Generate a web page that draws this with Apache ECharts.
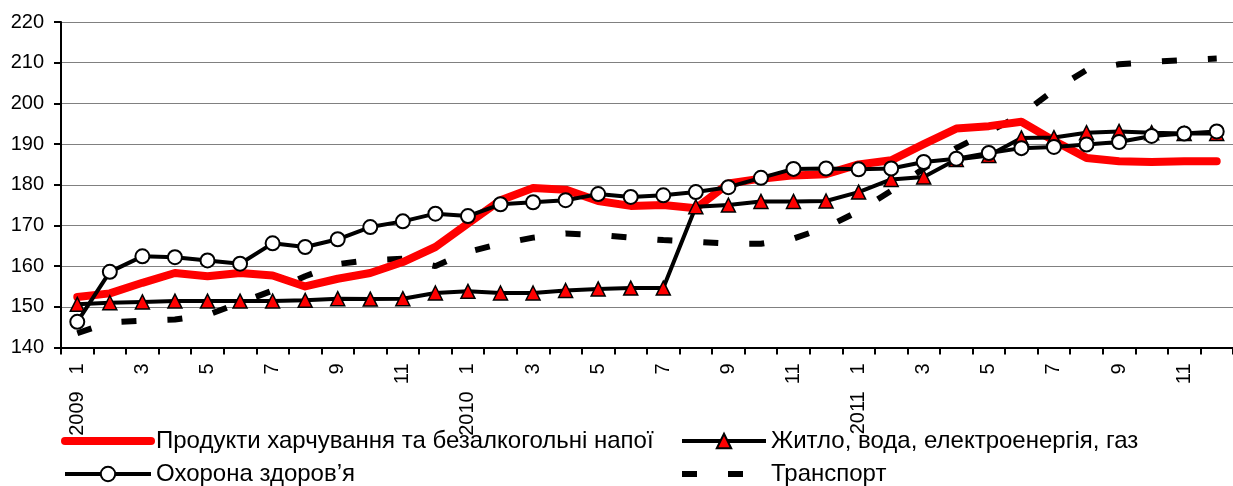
<!DOCTYPE html>
<html>
<head>
<meta charset="utf-8">
<script src="https://cdn.jsdelivr.net/npm/echarts@6/dist/echarts.min.js"></script>
<style>html,body{margin:0;padding:0;background:#fff}#c{width:1233px;height:486px}</style>
</head>
<body>
<div id="c"></div>
<script>
var years = ['2009', '2010', '2011'];
var months = [1,2,3,4,5,6,7,8,9,10,11,12];
var yTicks = {min: 140, max: 220, interval: 10};

var seriesNames = [
  'Продукти харчування та безалкогольні напої',
  'Житло, вода, електроенергія, газ',
  'Охорона здоров’я',
  'Транспорт'
];

var food = [152.4,153.3,155.9,158.3,157.5,158.3,157.7,155.0,156.9,158.3,161.0,164.7,
            170.5,176.2,179.2,178.8,176.0,174.8,175.0,174.2,180.3,181.5,182.3,182.6,
            185.0,186.0,190.0,193.8,194.4,195.5,190.8,186.6,185.8,185.6,185.8,185.8];
var housing = [150.6,151.0,151.2,151.4,151.4,151.4,151.4,151.6,152.0,151.9,152.0,153.4,
               153.8,153.4,153.4,154.0,154.4,154.6,154.6,174.6,175.0,175.9,175.9,176.0,
               178.2,181.3,181.9,186.2,187.2,191.5,191.6,192.8,193.1,192.8,192.6,192.6];
var health = [146.3,158.6,162.4,162.2,161.4,160.6,165.6,164.7,166.6,169.6,171.0,172.9,
              172.3,175.2,175.7,176.2,177.7,177.0,177.4,178.2,179.4,181.7,183.9,184.0,
              183.8,184.0,185.6,186.4,187.8,189.0,189.3,189.9,190.5,192.0,192.6,193.1];
var transport = [143.5,146.2,146.6,146.9,148.0,151.0,154.0,157.5,160.5,161.5,161.8,160.0,
                 163.5,165.5,167.0,168.0,167.7,167.0,166.4,166.0,165.5,165.5,166.8,169.5,
                 173.5,178.5,184.0,189.0,193.0,197.2,203.3,208.2,209.6,210.2,210.6,211.0];

var categories = [];
years.forEach(function (y) {
  months.forEach(function (m) { categories.push(y + '-' + m); });
});

var FONT = 'Liberation Sans, Arial, sans-serif';
var legendText = {color: '#000', fontFamily: FONT, fontSize: 24};
var chart = echarts.init(document.getElementById('c'), null, {renderer: 'canvas'});
chart.setOption({
  animation: false,
  backgroundColor: '#fff',
  grid: {left: 61, right: 0, top: 22, bottom: 138.5, containLabel: false},
  xAxis: {
    type: 'category',
    data: categories,
    boundaryGap: true,
    axisLine: {lineStyle: {color: '#000', width: 2}},
    axisTick: {show: true, interval: 0, length: 7, lineStyle: {color: '#000', width: 2}},
    axisLabel: {
      interval: 1,
      rotate: 90,
      margin: 16,
      color: '#000',
      fontFamily: FONT,
      fontSize: 20,
      formatter: function (v) {
        var p = v.split('-');
        return p[1] === '1' ? p[0] + '   ' + p[1] : p[1];
      }
    },
    splitLine: {show: false}
  },
  yAxis: {
    type: 'value',
    min: yTicks.min, max: yTicks.max, interval: yTicks.interval,
    axisLine: {show: true, lineStyle: {color: '#000', width: 2}},
    axisTick: {show: true, length: 7, lineStyle: {color: '#000', width: 2}},
    axisLabel: {color: '#000', fontFamily: FONT, fontSize: 20, margin: 17},
    splitLine: {lineStyle: {color: '#808080', width: 1}}
  },
  legend: [
    {
      data: [
        {name: seriesNames[0], itemStyle: {opacity: 0}, lineStyle: {width: 8, cap: 'round', color: '#ff0000'}},
        {name: seriesNames[2], lineStyle: {width: 4, color: '#000'}}
      ],
      orient: 'vertical', left: 61, top: 429,
      itemWidth: 86, itemHeight: 18, itemGap: 9,
      textStyle: legendText,
      padding: 0
    },
    {
      data: [
        {name: seriesNames[1], lineStyle: {width: 4, color: '#000'}},
        {name: seriesNames[3], itemStyle: {opacity: 0}, lineStyle: {width: 6, type: [15, 31], cap: 'butt', color: '#000'}}
      ],
      orient: 'vertical', left: 679, top: 429,
      itemWidth: 84, itemHeight: 18, itemGap: 9,
      textStyle: legendText,
      padding: 0
    }
  ],
  series: [
    {
      name: seriesNames[3], type: 'line', data: transport, z: 1,
      symbol: 'none', color: '#000',
      lineStyle: {color: '#000', width: 6, type: [15, 31], cap: 'butt'}
    },
    {
      name: seriesNames[0], type: 'line', data: food, z: 2,
      symbol: 'none', color: '#ff0000',
      lineStyle: {color: '#ff0000', width: 8, cap: 'round', join: 'round'}
    },
    {
      name: seriesNames[1], type: 'line', data: housing, z: 3,
      symbol: 'triangle', symbolSize: 14, showAllSymbol: true, color: '#ff0000',
      itemStyle: {color: '#ff0000', borderColor: '#000', borderWidth: 1.5},
      lineStyle: {color: '#000', width: 4}
    },
    {
      name: seriesNames[2], type: 'line', data: health, z: 4,
      symbol: 'circle', symbolSize: 14, showAllSymbol: true, color: '#fff',
      itemStyle: {color: '#fff', borderColor: '#000', borderWidth: 2},
      lineStyle: {color: '#000', width: 4}
    }
  ]
});
</script>
</body>
</html>
